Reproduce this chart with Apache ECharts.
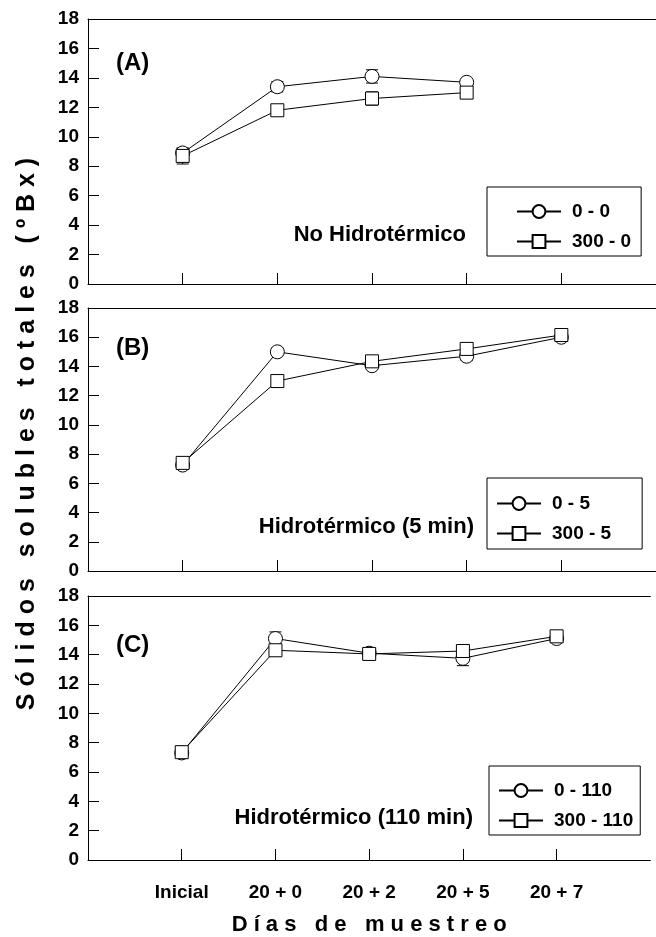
<!DOCTYPE html>
<html><head><meta charset="utf-8">
<script src="https://cdn.jsdelivr.net/npm/echarts@6/dist/echarts.min.js"></script>
<style>html,body{margin:0;padding:0;background:#fff}#c{width:656px;height:937px}</style>
</head><body><div id="c"></div>
<script>
// ---- data ----
const days = ['Inicial', '20 + 0', '20 + 2', '20 + 5', '20 + 7'];
const yMin = 0, yMax = 18, yStep = 2;
const panelLabels = ['(A)', '(B)', '(C)'];
const panelNotes = ['No Hidrotérmico', 'Hidrotérmico (5 min)', 'Hidrotérmico (110 min)'];
const legendA = ['0 - 0', '300 - 0'];
const legendB = ['0 - 5', '300 - 5'];
const legendC = ['0 - 110', '300 - 110'];
const aCircle = [8.9, 13.4, 14.1, 13.7];
const aCircleErr = [0.3, 0.35, 0.45, 0.2];
const aSquare = [8.7, 11.8, 12.6, 13.0];
const aSquareErr = [0.55, 0.3, 0.45, 0.25];
const bCircle = [7.25, 15.0, 14.05, 14.7, 16.0];
const bCircleErr = [0.2, 0.25, 0.2, 0.3, 0.2];
const bSquare = [7.4, 13.0, 14.35, 15.2, 16.15];
const bSquareErr = [0.2, 0.25, 0.2, 0.25, 0.2];
const cCircle = [7.3, 15.1, 14.1, 13.75, 15.1];
const cCircleErr = [0.2, 0.45, 0.2, 0.5, 0.2];
const cSquare = [7.35, 14.3, 14.05, 14.25, 15.25];
const cSquareErr = [0.2, 0.3, 0.2, 0.3, 0.2];
const xTitle = 'D í a s   d e   m u e s t r e o';
const yTitle = 'S ó l i d o s   s o l u b l e s   t o t a l e s   ( º B x )';

// ---- build ----
const FONT = 'Liberation Sans, Arial, Helvetica, sans-serif';
const xCats = [''].concat(days, [' ']);
const grids = [
  {left: 88, right: 0, top: 19, height: 265},
  {left: 88, right: 0, top: 308, height: 263},
  {left: 88, right: 0, top: 596, height: 265}
];
const panels = [
  {circle: aCircle, circleErr: aCircleErr, square: aSquare, squareErr: aSquareErr, names: legendA,
   legend: {left: 487, top: 187, padding: [15, 10, 5, 29]}, note: [466, 235], label: 63},
  {circle: bCircle, circleErr: bCircleErr, square: bSquare, squareErr: bSquareErr, names: legendB,
   legend: {left: 487, top: 478, padding: [16, 31, 6, 9]}, note: [474, 527], label: 348},
  {circle: cCircle, circleErr: cCircleErr, square: cSquare, squareErr: cSquareErr, names: legendC,
   legend: {left: 489, top: 766, padding: [15, 7, 5, 9]}, note: [473, 818], label: 645}
];

const xAxes = [], yAxes = [], series = [], legends = [], graphics = [];
function errRender(params, api) {
  const x = api.value(0), v = api.value(1), e = api.value(2);
  const p1 = api.coord([x, v + e]), p2 = api.coord([x, v - e]);
  const hw = 6;
  const st = {stroke: '#000', lineWidth: 1};
  return {type: 'group', children: [
    {type: 'line', shape: {x1: p1[0], y1: p1[1], x2: p2[0], y2: p2[1]}, style: st},
    {type: 'line', shape: {x1: p1[0] - hw, y1: p1[1], x2: p1[0] + hw, y2: p1[1]}, style: st},
    {type: 'line', shape: {x1: p2[0] - hw, y1: p2[1], x2: p2[0] + hw, y2: p2[1]}, style: st}
  ]};
}
panels.forEach((p, i) => {
  const last = i === panels.length - 1;
  xAxes.push({
    gridIndex: i, type: 'category', data: xCats, boundaryGap: false, position: 'bottom',
    axisLine: {show: true, lineStyle: {color: '#000', width: 1}},
    axisTick: {show: true, inside: true, length: 11, lineStyle: {color: '#000'},
      interval: (idx, val) => val.trim() !== ''},
    axisLabel: {show: last, interval: 0, margin: 23, color: '#000', fontSize: 19, fontWeight: 'bold', fontFamily: FONT},
    splitLine: {show: false},
    name: last ? xTitle : '', nameLocation: 'middle', nameGap: 54,
    nameTextStyle: {color: '#000', fontSize: 22, fontWeight: 'bold', fontFamily: FONT}
  });
  xAxes.push({
    gridIndex: i, type: 'category', data: xCats, boundaryGap: false, position: 'top',
    axisLine: {show: true, lineStyle: {color: '#000', width: 1}},
    axisTick: {show: false}, axisLabel: {show: false}, splitLine: {show: false}
  });
  yAxes.push({
    gridIndex: i, type: 'value', min: yMin, max: yMax, interval: yStep,
    axisLine: {show: true, lineStyle: {color: '#000', width: 1}},
    axisTick: {show: true, inside: true, length: 11, lineStyle: {color: '#000'}},
    axisLabel: {margin: 9, color: '#000', fontSize: 19, fontWeight: 'bold', fontFamily: FONT},
    splitLine: {show: false}
  });
  const xi = i * 2;
  const mk = (vals) => vals.map((v, k) => [days[k], v]);
  const mkErr = (vals, errs) => vals.map((v, k) => [days[k], v, errs[k]]);
  series.push({type: 'custom', xAxisIndex: xi, yAxisIndex: i, renderItem: errRender,
    data: mkErr(p.circle, p.circleErr), encode: {x: 0, y: 1}, z: 1, silent: true});
  series.push({type: 'custom', xAxisIndex: xi, yAxisIndex: i, renderItem: errRender,
    data: mkErr(p.square, p.squareErr), encode: {x: 0, y: 1}, z: 1, silent: true});
  series.push({name: p.names[0], type: 'line', xAxisIndex: xi, yAxisIndex: i, data: mk(p.circle),
    symbol: 'circle', symbolSize: 14, showSymbol: true, z: 3, animation: false,
    lineStyle: {color: '#000', width: 1},
    itemStyle: {color: '#fff', borderColor: '#000', borderWidth: 1}});
  series.push({name: p.names[1], type: 'line', xAxisIndex: xi, yAxisIndex: i, data: mk(p.square),
    symbol: 'rect', symbolSize: 13, showSymbol: true, z: 4, animation: false,
    lineStyle: {color: '#000', width: 1},
    itemStyle: {color: '#fff', borderColor: '#000', borderWidth: 1}});
  legends.push(Object.assign({
    data: p.names, orient: 'vertical', itemWidth: 44, itemHeight: 16, itemGap: 11,
    borderColor: '#000', borderWidth: 1, selectedMode: false,
    textStyle: {color: '#000', fontSize: 19, fontWeight: 'bold', fontFamily: FONT, padding: [0, 0, 0, 6]}
  }, p.legend));
  graphics.push({type: 'text', x: 116, y: p.label, style: {text: panelLabels[i],
    font: 'bold 24px ' + FONT, fill: '#000', textAlign: 'left', textVerticalAlign: 'middle', align: 'left', verticalAlign: 'middle'}});
  graphics.push({type: 'text', x: p.note[0], y: p.note[1], style: {text: panelNotes[i],
    font: 'bold 22px ' + FONT, fill: '#000', textAlign: 'right', textVerticalAlign: 'middle', align: 'right', verticalAlign: 'middle'}});
});
graphics.push({type: 'text', x: 27, y: 434, rotation: Math.PI / 2, style: {text: yTitle,
  font: 'bold 25px ' + FONT, fill: '#000', textAlign: 'center', textVerticalAlign: 'middle', align: 'center', verticalAlign: 'middle'}});

const chart = echarts.init(document.getElementById('c'), null, {renderer: 'canvas'});
chart.setOption({
  backgroundColor: '#fff',
  animation: false,
  grid: grids,
  xAxis: xAxes,
  yAxis: yAxes,
  legend: legends,
  series: series,
  graphic: graphics
});
</script></body></html>
